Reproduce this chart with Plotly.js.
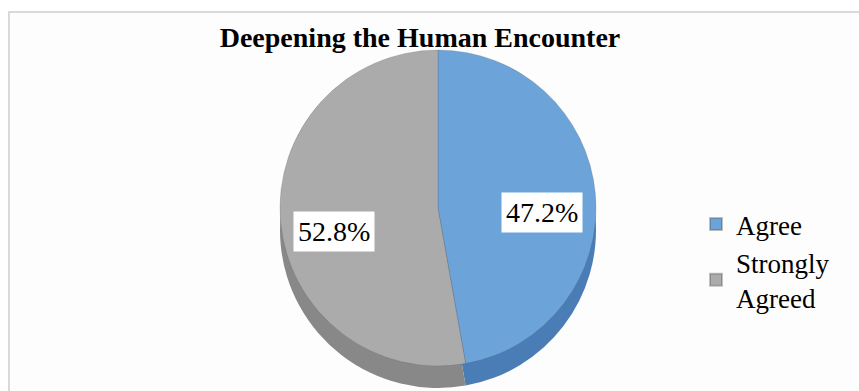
<!DOCTYPE html>
<html>
<head>
<meta charset="utf-8">
<script src="https://cdn.plot.ly/plotly-3.0.1.min.js"></script>
<style>html,body{margin:0;padding:0;background:#fff;}#chart{width:859px;height:391px;}</style>
</head>
<body>
<div id="chart"></div>
<script>
const categories = ['Agree', 'Strongly<br>Agreed'];
const values = [47.2, 52.8];
const topColors = ['#6CA4DA', '#ABABAB'];
const sideColors = ['#4A7DB5', '#888888'];
const chartTitle = 'Deepening the Human Encounter';

const W = 859, H = 391;
const serif = 'Liberation Serif';

// pie geometry (layout)
const cx = 438, cy = 208, r = 158, depth = 22;
const topDomain = {x: [(cx - r) / W, (cx + r) / W], y: [(H - (cy + r)) / H, (H - (cy - r)) / H]};
const sideDomain = {x: topDomain.x, y: [(H - (cy + r + depth)) / H, (H - (cy - r + depth)) / H]};

const sideTrace = {
  type: 'pie', values: values, labels: categories, sort: false, direction: 'clockwise', rotation: 0,
  domain: sideDomain, marker: {colors: sideColors, line: {width: 0}},
  textinfo: 'none', hoverinfo: 'skip', showlegend: false
};
const topTrace = {
  type: 'pie', values: values, labels: categories, sort: false, direction: 'clockwise', rotation: 0,
  domain: topDomain, marker: {colors: topColors, line: {width: 0.6, color: 'rgba(80,80,80,0.35)'}},
  textinfo: 'none', hoverinfo: 'label+percent'
};

// data labels positioned from the slice angles
const total = values.reduce((a, b) => a + b, 0);
let cum = 0;
const annotations = values.map((v, i) => {
  const mid = (cum + v / 2) / total * 2 * Math.PI;
  cum += v;
  const rr = r * 0.66;
  const px = cx + rr * Math.sin(mid);
  const py = cy - rr * Math.cos(mid) + 14;
  return {
    xref: 'paper', yref: 'paper', x: px / W, y: (H - py) / H, xanchor: 'center', yanchor: 'middle',
    text: (v / total * 100).toFixed(1) + '%', showarrow: false,
    font: {family: serif, size: 28, color: '#000'}, bgcolor: '#FFFFFF', borderpad: 4
  };
});

const layout = {
  width: W, height: H, margin: {l: 0, r: 0, t: 0, b: 0},
  paper_bgcolor: '#FFFFFF',
  font: {family: serif, color: '#000'},
  title: {text: '<b>' + chartTitle + '</b>', x: 420 / W, xanchor: 'center', y: 1 - 37 / H, yanchor: 'middle',
          font: {family: serif, size: 28, color: '#000'}},
  shapes: [{type: 'rect', xref: 'paper', yref: 'paper', x0: 9 / W, x1: 1.02, y0: -0.02, y1: 1 - 12 / H,
            fillcolor: '#FDFDFD', line: {color: '#D9D9D9', width: 2}, layer: 'below'}],
  legend: {x: 696 / W, xanchor: 'left', y: 1 - 200 / H, yanchor: 'top',
           font: {family: serif, size: 27, color: '#000'}, bgcolor: 'rgba(0,0,0,0)', itemsizing: 'constant'},
  annotations: annotations,
  showlegend: true
};

Plotly.newPlot('chart', [sideTrace, topTrace], layout, {displayModeBar: false, staticPlot: true});
</script>
</body>
</html>
